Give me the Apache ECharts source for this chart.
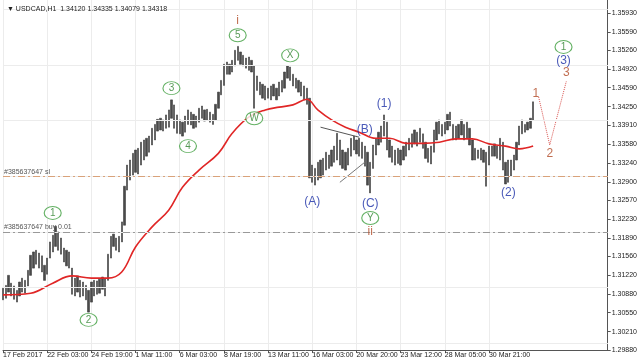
<!DOCTYPE html>
<html><head><meta charset="utf-8">
<script src="https://cdn.jsdelivr.net/npm/echarts@6/dist/echarts.min.js"></script>
<style>html,body{margin:0;padding:0;background:#fff}#c{width:640px;height:360px}</style>
</head><body><div id="c"></div>
<script>
// ---- data ----
const slotCount = 220; // 4-hour slots across the visible window
const xTickSlots = [0,16,32,48,64,80,96,112,128,144,160,176];
const xTickLabels = ['17 Feb 2017','22 Feb 03:00','24 Feb 19:00','1 Mar 11:00','6 Mar 03:00','8 Mar 19:00','13 Mar 11:00','16 Mar 03:00','20 Mar 20:00','23 Mar 12:00','28 Mar 05:00','30 Mar 21:00'];
const yTicks = [1.29880,1.30210,1.30550,1.30880,1.31220,1.31560,1.31890,1.32230,1.32570,1.32900,1.33240,1.33580,1.33910,1.34250,1.34590,1.34920,1.35260,1.35590,1.35930];
const barHigh = [1.3099,1.3104,1.3122,1.3108,1.3103,1.3095,1.3110,1.3117,1.3113,1.3131,
1.3158,1.3164,1.3167,1.3162,1.3157,1.3140,1.3153,1.3182,1.3194,1.3210,
1.3200,1.3189,1.3171,1.3167,1.3164,1.3135,1.3117,1.3121,1.3113,1.3110,
1.3104,1.3095,1.3110,1.3113,1.3112,1.3115,1.3119,1.3117,1.3160,1.3192,
1.3196,1.3189,1.3192,1.3218,1.3282,1.3320,1.3329,1.3341,1.3347,1.3350,
1.3361,1.3365,1.3368,1.3372,1.3386,1.3393,1.3402,1.3404,1.3401,1.3410,
1.3419,1.3437,1.3428,1.3410,1.3401,1.3397,1.3408,1.3419,1.3415,1.3411,
1.3408,1.3422,1.3426,1.3419,1.3420,1.3415,1.3411,1.3429,1.3451,1.3472,
1.3501,1.3505,1.3501,1.3508,1.3526,1.3533,1.3523,1.3517,1.3512,1.3514,
1.3508,1.3498,1.3480,1.3469,1.3465,1.3462,1.3458,1.3462,1.3465,1.3458,
1.3469,1.3472,1.3487,1.3498,1.3496,1.3483,1.3476,1.3472,1.3469,1.3462,
1.3458,1.3440,1.3320,1.3314,1.3325,1.3329,1.3332,1.3343,1.3338,1.3347,
1.3354,1.3377,1.3365,1.3347,1.3343,1.3350,1.3368,1.3372,1.3365,1.3368,
1.3361,1.3354,1.3343,1.3325,1.3356,1.3368,1.3379,1.3390,1.3410,1.3397,
1.3365,1.3354,1.3347,1.3350,1.3347,1.3354,1.3361,1.3368,1.3376,1.3383,
1.3379,1.3386,1.3376,1.3361,1.3350,1.3354,1.3383,1.3397,1.3401,1.3393,
1.3397,1.3411,1.3415,1.3393,1.3390,1.3393,1.3401,1.3393,1.3397,1.3386,
1.3365,1.3350,1.3347,1.3350,1.3347,1.3343,1.3354,1.3354,1.3358,1.3354,
1.3368,1.3361,1.3325,1.3329,1.3329,1.3338,1.3361,1.3390,1.3401,1.3393,
1.3397,1.3404,1.34335];
const barLow = [1.3078,1.3081,1.3092,1.3085,1.3079,1.3074,1.3085,1.3092,1.3090,1.3103,
1.3122,1.3135,1.3142,1.3135,1.3128,1.3113,1.3124,1.3153,1.3164,1.3174,
1.3167,1.3160,1.3146,1.3139,1.3135,1.3088,1.3085,1.3092,1.3083,1.3085,
1.3078,1.3056,1.3074,1.3085,1.3088,1.3090,1.3097,1.3085,1.3113,1.3153,
1.3174,1.3167,1.3164,1.3182,1.3212,1.3275,1.3293,1.3302,1.3307,1.3304,
1.3320,1.3329,1.3336,1.3343,1.3356,1.3365,1.3381,1.3383,1.3381,1.3386,
1.3388,1.3404,1.3386,1.3377,1.3376,1.3372,1.3379,1.3393,1.3392,1.3386,
1.3388,1.3397,1.3404,1.3399,1.3401,1.3397,1.3393,1.3401,1.3422,1.3446,
1.3463,1.3483,1.3483,1.3487,1.3498,1.3508,1.3501,1.3498,1.3494,1.3490,
1.3487,1.3422,1.3454,1.3446,1.3440,1.3437,1.3440,1.3437,1.3444,1.3437,
1.3444,1.3451,1.3458,1.3476,1.3472,1.3462,1.3458,1.3451,1.3444,1.3437,
1.3429,1.3297,1.3289,1.3284,1.3293,1.3297,1.3302,1.3311,1.3314,1.3318,
1.3325,1.3329,1.3320,1.3314,1.3311,1.3320,1.3336,1.3347,1.3340,1.3336,
1.3332,1.3318,1.3284,1.3270,1.3314,1.3338,1.3356,1.3361,1.3372,1.3347,
1.3334,1.3325,1.3320,1.3323,1.3320,1.3329,1.3336,1.3347,1.3352,1.3358,
1.3354,1.3361,1.3350,1.3332,1.3325,1.3322,1.3343,1.3365,1.3376,1.3372,
1.3376,1.3383,1.3390,1.3365,1.3365,1.3368,1.3374,1.3365,1.3368,1.3356,
1.3329,1.3329,1.3332,1.3329,1.3325,1.3282,1.3320,1.3336,1.3336,1.3332,
1.3329,1.3311,1.3286,1.3289,1.3300,1.3311,1.3329,1.3356,1.3376,1.3379,
1.3383,1.3386,1.3401];
const maSlots = [0,10,18,25,32,38,43,48,54,60,65,71,78,83,89,95,100,105,110,114,119,124,129,135,140,146,152,158,164,170,176,182,187,192];
const maValues = [1.3087,1.3090,1.3108,1.3121,1.3117,1.3117,1.3128,1.3173,1.3209,1.3239,1.3280,1.3311,1.3341,1.3377,1.3406,1.3419,1.3424,1.3428,1.3438,1.3419,1.3401,1.3388,1.3379,1.3368,1.3368,1.3359,1.3359,1.3361,1.3367,1.3367,1.3358,1.3354,1.3349,1.3354];
const projSlots = [194,198,204];
const projValues = [1.3442,1.3356,1.3470];
const trend1 = [[115,1.3388],[129,1.3370]];
const trend2 = [[122,1.3289],[131,1.3325]];
const slLevel = 1.3286, buyLevel = 1.3178, lastPrice = 1.34318;
const greenLabels = [[85,1.3553,'5'],[61,1.3458,'3'],[67,1.3354,'4'],[31,1.3042,'2'],[18,1.3234,'1'],[91,1.3404,'W'],[104,1.3517,'X'],[133,1.3225,'Y'],[203,1.3532,'1']];
const blueLabels = [[112,1.3255,'(A)'],[131,1.3383,'(B)'],[133,1.3250,'(C)'],[138,1.3431,'(1)'],[183,1.3270,'(2)'],[203,1.3508,'(3)']];
const brownLabels = [[85,1.3580,'i'],[133,1.3200,'ii'],[193,1.3449,'1'],[198,1.3341,'2'],[204,1.3485,'3']];

// ---- build ----
const categories = [];
for (let i = 0; i < slotCount; i++) categories.push(String(i));
const tickMap = {};
xTickSlots.forEach((s, k) => tickMap[s] = xTickLabels[k]);
const isTick = (idx) => tickMap[idx] !== undefined;
const candles = barHigh.map((h, i) => [barLow[i], h, barLow[i], h]);
const ma = maSlots.map((s, k) => [s, maValues[k]]);
const proj = projSlots.map((s, k) => [s, projValues[k]]);
const FONT = 'Liberation Sans';

const chart = echarts.init(document.getElementById('c'), null, {renderer: 'canvas'});
chart.setOption({
  animation: false,
  backgroundColor: '#ffffff',
  title: {
    text: '\u25BC USDCAD,H1  1.34120 1.34335 1.34079 1.34318',
    left: 2, top: 1,
    textStyle: {fontSize: 7, fontWeight: 'normal', color: '#222', fontFamily: FONT}
  },
  grid: {left: 0, right: 27, top: 0, bottom: 10},
  xAxis: {
    type: 'category', data: categories, boundaryGap: false,
    axisLine: {lineStyle: {color: '#555', width: 1}},
    axisTick: {show: true, interval: isTick, length: 3, lineStyle: {color: '#555'}},
    axisLabel: {interval: isTick, formatter: (v, idx) => tickMap[idx] || '', align: 'left',
      fontSize: 7, color: '#222', margin: 2, fontFamily: FONT, hideOverlap: false},
    splitLine: {show: true, interval: isTick, lineStyle: {color: '#ececec', width: 1}}
  },
  yAxis: {
    type: 'value', position: 'right', min: 1.2988, max: 1.36163, scale: true,
    axisLine: {show: true, lineStyle: {color: '#555', width: 1}},
    axisTick: {show: true, customValues: yTicks, length: 3, lineStyle: {color: '#555'}},
    axisLabel: {customValues: yTicks, formatter: (v) => v.toFixed(5), fontSize: 7, color: '#222', margin: 4, fontFamily: FONT, hideOverlap: false},
    splitLine: {show: false}
  },
  series: [
    {
      type: 'line', data: [], z: 1, silent: true,
      markLine: {
        silent: true, symbol: 'none', animation: false,
        lineStyle: {color: '#ececec', width: 1, type: 'solid'},
        label: {show: false},
        data: yTicks.map(v => ({yAxis: v}))
      }
    },
    {
      type: 'line', data: [], z: 2, silent: true,
      markLine: {
        silent: true, symbol: 'none', animation: false,
        data: [
          {yAxis: slLevel, lineStyle: {color: '#d9a27a', width: 1, type: [7, 3, 2, 3]},
            label: {show: true, position: 'insideStartTop', formatter: '#385637647 sl', fontSize: 7, color: '#555', distance: 1, fontFamily: FONT}},
          {yAxis: buyLevel, lineStyle: {color: '#999', width: 1, type: [7, 3, 2, 3]},
            label: {show: true, position: 'insideStartTop', formatter: '#385637647 buy 0.01', fontSize: 7, color: '#555', distance: 1, fontFamily: FONT}}
        ]
      }
    },
    {
      name: 'USDCAD', type: 'candlestick', data: candles, z: 3, barWidth: 1.8,
      itemStyle: {color: '#4a4a4a', color0: '#4a4a4a', borderColor: '#3c3c3c', borderColor0: '#3c3c3c', borderWidth: 0.6},
      markLine: {
        silent: true, symbol: 'none', animation: false,
        lineStyle: {opacity: 0},
        data: [{yAxis: lastPrice}],
        label: {show: true, position: 'end', distance: 1, formatter: '1.34318', backgroundColor: '#000', color: '#fff',
          fontSize: 7, padding: [1, 2, 0, 2], fontFamily: FONT}
      }
    },
    {
      type: 'line', data: ma, smooth: 0.4, symbol: 'none', z: 4,
      lineStyle: {color: '#e02626', width: 1.6}
    },
    {
      type: 'line', data: proj, symbol: 'none', z: 4,
      lineStyle: {color: '#d9534f', width: 1, type: 'dotted'}
    },
    {
      type: 'line', data: trend1, symbol: 'none', z: 4,
      lineStyle: {color: '#555', width: 1}
    },
    {
      type: 'line', data: trend2, symbol: 'none', z: 4,
      lineStyle: {color: '#777', width: 1}
    },
    {
      type: 'scatter', data: greenLabels, z: 6, symbol: 'circle', symbolSize: [17, 13],
      itemStyle: {color: '#ffffff', borderColor: '#3d9e3d', borderWidth: 1},
      label: {show: true, position: 'inside', formatter: p => p.data[2], color: '#2c7f2c', fontSize: 10, fontFamily: FONT}
    },
    {
      type: 'scatter', data: blueLabels, z: 6, symbolSize: 1,
      itemStyle: {color: 'rgba(0,0,0,0)'},
      label: {show: true, position: 'inside', formatter: p => p.data[2], color: '#1c2fa6', fontSize: 12, fontFamily: FONT}
    },
    {
      type: 'scatter', data: brownLabels, z: 6, symbolSize: 1,
      itemStyle: {color: 'rgba(0,0,0,0)'},
      label: {show: true, position: 'inside', formatter: p => p.data[2], color: '#b24a26', fontSize: 12, fontFamily: FONT}
    }
  ]
});
</script>
</body></html>
